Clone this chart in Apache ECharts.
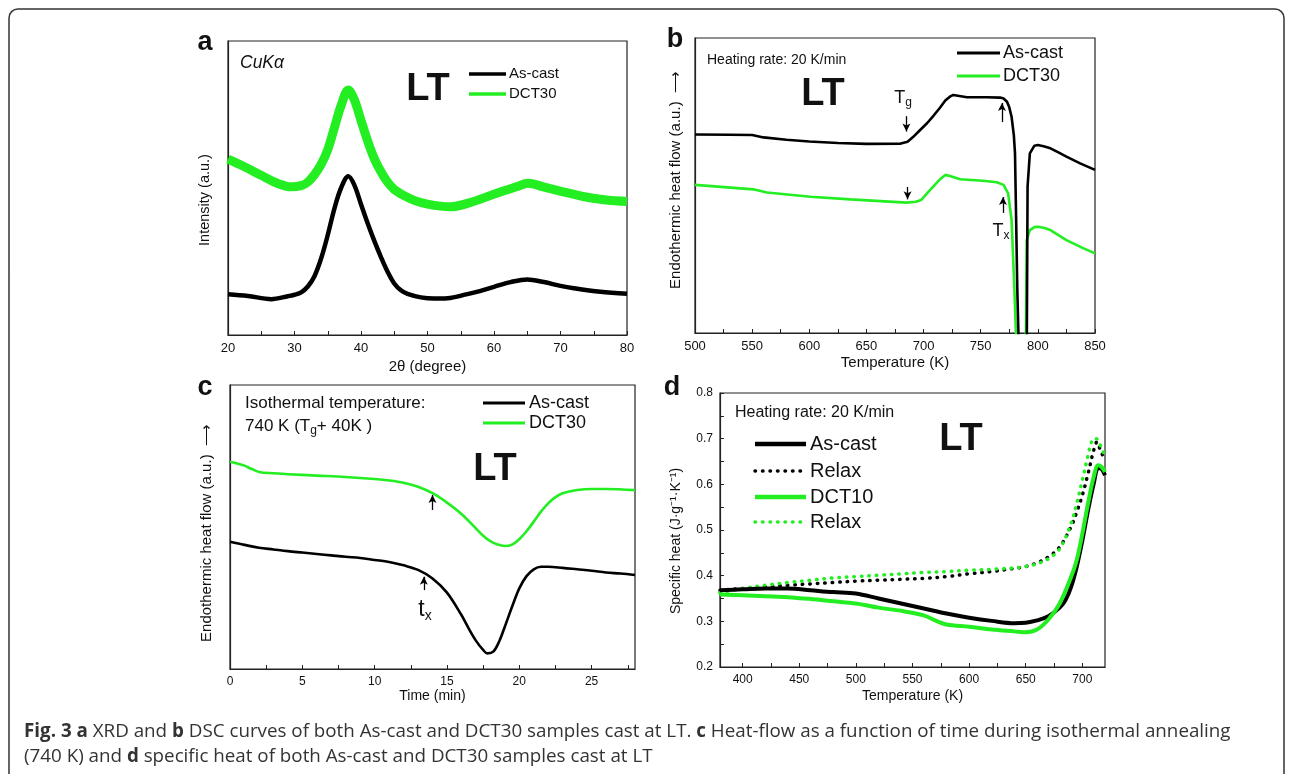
<!DOCTYPE html>
<html>
<head>
<meta charset="utf-8">
<script src="https://cdn.jsdelivr.net/npm/echarts@6/dist/echarts.min.js"></script>
<style>
  html, body { margin: 0; padding: 0; background: #fff; }
  #chart { width: 1293px; height: 774px; }
</style>
</head>
<body>
<div id="chart"></div>
<script>
// ---- values ----
// (a) XRD, intensity in arbitrary units (0-100 of the frame)
const xrdCastAngle = [20, 23, 26.5, 29, 30, 31, 32, 33, 34, 35, 36, 37, 38.1, 39, 40, 41, 42, 43, 44, 45, 46, 47, 49, 51, 53, 56, 58, 60, 62.5, 65, 67.5, 70, 72, 76, 80]
const xrdCastInt = [13.9, 13.3, 12.2, 13.2, 13.7, 14.5, 16.5, 20, 26, 34, 43, 50, 54, 51, 44.5, 38, 32, 26.5, 21.5, 17.5, 15.2, 14, 12.8, 12.4, 12.5, 13.9, 15, 16.4, 18, 18.9, 18, 16.7, 15.9, 14.7, 14]
const xrdDctAngle = [20, 22.4, 24.9, 27.4, 29.5, 31, 32, 33, 34, 35, 36, 37, 38.1, 39, 40, 41, 42, 43, 44, 45, 46.4, 48, 50, 53.4, 56.9, 60.4, 63.4, 65.1, 67.4, 70.4, 73.4, 76.9, 80]
const xrdDctInt = [59.8, 57.3, 54.4, 51.6, 50.4, 50.8, 52, 54.5, 58, 63, 70.5, 78, 83.3, 80, 73, 66, 60, 55.5, 52, 49.5, 47.5, 45.8, 44.5, 43.6, 45.4, 48.2, 50.4, 51.6, 50.4, 48.7, 47.1, 45.9, 45.4]
const xrdLabels = [20, 30, 40, 50, 60, 70, 80]
const xrdMinor = [25, 35, 45, 55, 65, 75]

// (b) DSC heat flow, arbitrary units
const dscCastT = [500, 530, 550, 560, 580, 600, 625, 650, 680, 686, 691, 697, 703, 709, 714, 719, 723, 726, 738, 755, 767, 770, 773, 775, 777, 779, 780, 781, 782, 783, 784, 790, 791, 793, 797, 800, 805, 811, 818, 825, 837, 850]
const dscCastHf = [67.3, 67.2, 67.1, 66.3, 65.5, 64.9, 64.4, 64.1, 64.2, 64.8, 66.5, 68.8, 71.1, 73.8, 76.2, 78.8, 80.1, 80.7, 79.9, 79.9, 79.8, 79.5, 78.4, 76.5, 73.3, 67, 60.9, 38.3, 15, 0, -30, -30, 49.6, 60.9, 63.5, 63.7, 63.3, 62.6, 61.2, 59.8, 57.5, 55.3]
const dscDctT = [500, 551, 563, 601, 636, 685, 693, 698, 703, 707, 711, 715, 719, 723, 732, 752, 764, 770, 774, 777, 779.4, 780.8, 781.5, 789, 790.2, 793, 797, 800, 805, 811, 818, 825, 840, 850]
const dscDctHf = [50.2, 48.7, 47.6, 46.2, 45.3, 44.2, 44.5, 45.1, 47.3, 49, 50.7, 52.3, 53.6, 53.2, 52.1, 51.6, 51.1, 50.2, 47.3, 38.3, 15.7, 0, -30, -30, 31.5, 34.9, 35.9, 36, 35.7, 34.9, 33.2, 31.5, 28.7, 27]
const dscLabels = [500, 550, 600, 650, 700, 750, 800, 850]
const dscMinor = [525, 575, 625, 675, 725, 775, 825]

// (c) isothermal heat flow at 740 K, arbitrary units
const isoCastTime = [0, 1, 2, 3, 4, 5, 6, 7, 8, 9, 10, 11, 12, 13, 14, 15, 16, 16.5, 17, 17.5, 17.8, 18.2, 18.6, 19, 19.5, 20, 20.5, 21, 21.5, 22, 23, 24, 25, 26, 27, 28]
const isoCastHf = [44.8, 43.7, 42.7, 42.1, 41.5, 41, 40.5, 40, 39.5, 39.1, 38.4, 37.7, 36.5, 34.9, 31.9, 26.9, 19, 14.3, 10, 6.7, 5.5, 6.1, 9.6, 14.9, 21.9, 28.4, 32.7, 35.1, 36, 36, 35.6, 35.1, 34.6, 34, 33.6, 33.1]
const isoDctTime = [0, 0.5, 1, 1.5, 2, 3, 4, 6, 8, 10, 11, 12, 13, 14, 15, 16, 17, 17.5, 18, 18.5, 19, 19.5, 20, 20.5, 21, 21.5, 22, 22.5, 23, 24, 25, 26, 28]
const isoDctHf = [73, 72.4, 71.6, 70.4, 69.4, 68.9, 68.6, 68.1, 67.6, 66.9, 66.4, 65.6, 64.2, 61.9, 58.6, 54.6, 49.5, 46.9, 45, 43.8, 43.3, 43.8, 45.7, 48.5, 51.9, 55.4, 58.3, 60.5, 61.9, 63, 63.4, 63.4, 63]
const isoLabels = [0, 5, 10, 15, 20, 25]
const isoMinor = [2.5, 7.5, 12.5, 17.5, 22.5, 27.5]

// (d) specific heat, J/(g K)
const cpCastT = [380, 400, 420, 440, 460, 480, 500, 520, 540, 560, 580, 600, 620, 640, 650, 660, 670, 680, 685, 690, 695, 700, 705, 710, 714, 717, 720]
const cpCast = [0.368, 0.370, 0.372, 0.372, 0.368, 0.364, 0.361, 0.350, 0.339, 0.328, 0.317, 0.308, 0.301, 0.296, 0.297, 0.302, 0.311, 0.330, 0.346, 0.375, 0.419, 0.477, 0.543, 0.601, 0.636, 0.634, 0.620]
const cpCastRelaxT = [380, 400, 420, 440, 460, 480, 500, 520, 540, 560, 580, 600, 620, 640, 650, 660, 670, 680, 690, 695, 700, 705, 710, 713, 716, 720]
const cpCastRelax = [0.368, 0.372, 0.375, 0.379, 0.382, 0.385, 0.388, 0.390, 0.392, 0.394, 0.398, 0.404, 0.409, 0.416, 0.420, 0.428, 0.441, 0.463, 0.507, 0.539, 0.576, 0.623, 0.674, 0.693, 0.674, 0.653]
const cpDctT = [380, 400, 420, 440, 460, 480, 500, 520, 540, 560, 570, 580, 600, 620, 640, 650, 660, 670, 680, 690, 695, 700, 705, 710, 714, 717, 720]
const cpDct = [0.359, 0.357, 0.355, 0.353, 0.349, 0.344, 0.339, 0.330, 0.323, 0.313, 0.302, 0.293, 0.288, 0.282, 0.278, 0.276, 0.282, 0.304, 0.339, 0.397, 0.434, 0.492, 0.558, 0.616, 0.642, 0.638, 0.627]
const cpDctRelaxT = [380, 400, 420, 440, 460, 480, 500, 520, 540, 560, 580, 600, 620, 640, 650, 660, 670, 680, 690, 695, 700, 705, 709, 712, 716, 720]
const cpDctRelax = [0.362, 0.372, 0.379, 0.385, 0.390, 0.395, 0.398, 0.401, 0.404, 0.407, 0.409, 0.412, 0.414, 0.417, 0.420, 0.426, 0.437, 0.459, 0.514, 0.558, 0.609, 0.663, 0.698, 0.700, 0.685, 0.661]
const cpLabels = [400, 450, 500, 550, 600, 650, 700]
const cpMinor = [425, 475, 525, 575, 625, 675]
const cpYLabels = [0.2, 0.3, 0.4, 0.5, 0.6, 0.7, 0.8]
const cpYMinor = [0.25, 0.35, 0.45, 0.55, 0.65, 0.75]

const FONT = "'Liberation Sans', Arial, sans-serif"
const CAPTION_FONT = "'Open Sans', 'Noto Sans', sans-serif"
const BLACK = '#000'
const GREEN = '#22ee22'

const zip = (xs, ys) => xs.map((x, i) => [x, ys[i]])

// plain box around each panel
const grids = [
    { left: 228, top: 41, width: 399, height: 294 },
    { left: 695, top: 38, width: 400, height: 295 },
    { left: 230, top: 385, width: 405, height: 284 },
    { left: 720, top: 393, width: 385, height: 274 }
].map(g => Object.assign(g, { show: true, borderColor: '#222', borderWidth: 1.2, backgroundColor: 'transparent' }))

function xAxis(i, min, max, labels, minor, name, nameGap, fontSize, nameSize) {
    return {
        type: 'value', gridIndex: i, min, max,
        name, nameLocation: 'middle', nameGap,
        nameTextStyle: { fontFamily: FONT, fontSize: nameSize, color: '#111' },
        axisLine: { show: true, lineStyle: { color: '#222', width: 1.2 } },
        axisTick: { show: true, inside: true, length: 4, customValues: labels.concat(minor), lineStyle: { color: '#222' } },
        axisLabel: { show: true, customValues: labels, margin: 7, fontFamily: FONT, fontSize, color: '#111' },
        splitLine: { show: false }
    }
}

function plainY(i, min, max) {
    return {
        type: 'value', gridIndex: i, min, max,
        axisLine: { show: true, lineStyle: { color: '#222', width: 1.2 } },
        axisTick: { show: false }, axisLabel: { show: false }, splitLine: { show: false }
    }
}

function line(name, i, data, color, width, extra) {
    return Object.assign({
        name, type: 'line', xAxisIndex: i, yAxisIndex: i, data,
        symbol: 'none', showSymbol: false, clip: true,
        lineStyle: { color, width },
        itemStyle: { color }
    }, extra || {})
}

// small vertical arrows marking Tg, Tx and tx
function arrows(list) {
    return {
        silent: true, symbol: ['none', 'arrow'], symbolSize: [6, 8],
        lineStyle: { color: BLACK, width: 1.3, type: 'solid' },
        label: { show: false }, emphasis: { disabled: true },
        data: list.map(a => [{ coord: [a[0], a[1]] }, { coord: [a[0], a[2]] }])
    }
}

const dotted = color => ({ color, width: 3.5, type: [0.5, 7], cap: 'round' })

const series = [
    line('As-cast', 0, zip(xrdCastAngle, xrdCastInt), BLACK, 4.5, { smooth: 0.35 }),
    line('DCT30', 0, zip(xrdDctAngle, xrdDctInt), GREEN, 9, { smooth: 0.35 }),

    line('DCT30', 1, zip(dscDctT, dscDctHf), GREEN, 2.6, {
        markLine: arrows([[686, 49.5, 45.3], [769.5, 40.7, 46.1]])
    }),
    line('As-cast', 1, zip(dscCastT, dscCastHf), BLACK, 2.6, {
        markLine: arrows([[685, 73.5, 68.3], [768.6, 71.5, 78]])
    }),

    line('DCT30', 2, zip(isoDctTime, isoDctHf), GREEN, 2.6, {
        smooth: 0.35, markLine: arrows([[14.0, 56, 61.3]])
    }),
    line('As-cast', 2, zip(isoCastTime, isoCastHf), BLACK, 2.6, {
        smooth: 0.35, markLine: arrows([[13.4, 27.8, 32.5]])
    }),

    line('Relax', 3, zip(cpCastRelaxT, cpCastRelax), BLACK, 3.5, { smooth: 0.35, lineStyle: dotted(BLACK) }),
    line('Relax DCT', 3, zip(cpDctRelaxT, cpDctRelax), GREEN, 3.5, { smooth: 0.35, lineStyle: dotted(GREEN) }),
    line('As-cast', 3, zip(cpCastT, cpCast), BLACK, 4, { smooth: 0.35 }),
    line('DCT10', 3, zip(cpDctT, cpDct), GREEN, 4, { smooth: 0.35 })
]

// free text, legends and the frame
function txt(x, y, text, size, opt) {
    opt = opt || {}
    return {
        type: 'text', x, y, rotation: opt.rot || 0, z: 100,
        style: Object.assign({
            text, fill: opt.color || '#111',
            font: (opt.italic ? 'italic ' : '') + (opt.bold ? 'bold ' : '') + size + 'px ' + (opt.family || FONT),
            align: opt.align || 'left', verticalAlign: 'middle'
        }, opt.style || {})
    }
}

function key(x1, x2, y, color, width, dashed) {
    const style = { stroke: color, lineWidth: width }
    if (dashed) { style.lineDash = [0.5, 7]; style.lineCap = 'round' }
    return { type: 'line', z: 100, shape: { x1, y1: y, x2, y2: y }, style }
}

const sub = { fontSize: 12, verticalAlign: 'bottom', lineHeight: 12 }
const boldCap = { b: { fontWeight: 'bold', fontFamily: CAPTION_FONT, fontSize: 18.8, fill: '#333' } }

const graphic = [
    { type: 'rect', z: 0, shape: { x: 9, y: 9, width: 1275, height: 790, r: 9 }, style: { fill: 'none', stroke: '#333', lineWidth: 1.5 } },

    // panel letters
    txt(205, 43, 'a', 27, { bold: true, align: 'center' }),
    txt(675, 40, 'b', 27, { bold: true, align: 'center' }),
    txt(205, 388, 'c', 27, { bold: true, align: 'center' }),
    txt(672, 388, 'd', 27, { bold: true, align: 'center' }),

    // y-axis titles
    txt(205, 200, 'Intensity (a.u.)', 14.5, { rot: Math.PI / 2, align: 'center' }),
    txt(676, 180, 'Endothermic heat flow (a.u.)  \u27F6', 15, { rot: Math.PI / 2, align: 'center' }),
    txt(207, 533, 'Endothermic heat flow (a.u.)  \u27F6', 15, { rot: Math.PI / 2, align: 'center' }),
    txt(676, 541, 'Specific heat (J\u00B7g\u207B\u00B9\u00B7K\u207B\u00B9)', 14, { rot: Math.PI / 2, align: 'center' }),

    // panel a
    txt(240, 63, 'CuK\u03B1', 17.5, { italic: true }),
    txt(428, 90, 'LT', 38, { bold: true, align: 'center' }),
    key(469, 506, 74, BLACK, 3.5), key(469, 506, 94, GREEN, 3.5),
    txt(509, 74, 'As-cast', 15), txt(509, 94, 'DCT30', 15),

    // panel b
    txt(707, 60, 'Heating rate: 20 K/min', 14),
    txt(823, 95, 'LT', 38, { bold: true, align: 'center' }),
    key(957, 1000, 53, BLACK, 3), key(957, 1000, 76, GREEN, 3),
    txt(1003, 53, 'As-cast', 18), txt(1003, 76, 'DCT30', 18),
    txt(903, 98, 'T{s|g}', 18, { align: 'center', style: { lineHeight: 22, rich: { s: sub } } }),
    txt(1001, 231, 'T{s|x}', 18, { align: 'center', style: { lineHeight: 22, rich: { s: sub } } }),

    // panel c
    txt(245, 403, 'Isothermal temperature:', 17),
    txt(245, 426, '740 K (T{s|g}+ 40K )', 17, { style: { lineHeight: 22, rich: { s: sub } } }),
    txt(495, 470, 'LT', 38, { bold: true, align: 'center' }),
    key(483, 525, 403, BLACK, 3), key(483, 525, 423, GREEN, 3),
    txt(529, 403, 'As-cast', 18), txt(529, 423, 'DCT30', 18),
    txt(425, 610, 't{s|x}', 23, { align: 'center', style: { lineHeight: 26, rich: { s: { fontSize: 14, verticalAlign: 'bottom', lineHeight: 12 } } } }),

    // panel d
    txt(735, 413, 'Heating rate: 20 K/min', 16),
    txt(961, 440, 'LT', 38, { bold: true, align: 'center' }),
    key(755, 806, 444, BLACK, 4.5), key(755, 806, 471, BLACK, 3.5, true),
    key(755, 806, 497, GREEN, 4.5), key(755, 806, 522, GREEN, 3.5, true),
    txt(810, 444, 'As-cast', 20), txt(810, 471, 'Relax', 20),
    txt(810, 497, 'DCT10', 20), txt(810, 522, 'Relax', 20),

    // caption
    txt(24, 732, '{b|Fig. 3 a} XRD and {b|b} DSC curves of both As-cast and DCT30 samples cast at LT. {b|c} Heat-flow as a function of time during isothermal annealing', 18.8,
        { family: CAPTION_FONT, color: '#333', style: { rich: boldCap } }),
    txt(24, 757, '(740 K) and {b|d} specific heat of both As-cast and DCT30 samples cast at LT', 18.8,
        { family: CAPTION_FONT, color: '#333', style: { rich: boldCap } })
]

const yD = {
    type: 'value', gridIndex: 3, min: 0.2, max: 0.8,
    axisLine: { show: true, lineStyle: { color: '#222', width: 1.2 } },
    axisTick: { show: true, inside: true, length: 4, customValues: cpYLabels.concat(cpYMinor), lineStyle: { color: '#222' } },
    axisLabel: { show: true, customValues: cpYLabels, margin: 7, fontFamily: FONT, fontSize: 12, color: '#111', formatter: v => v.toFixed(1) },
    splitLine: { show: false }
}

const chart = echarts.init(document.getElementById('chart'), null, { renderer: 'canvas' })
chart.setOption({
    animation: false,
    backgroundColor: '#fff',
    textStyle: { fontFamily: FONT },
    grid: grids,
    xAxis: [
        xAxis(0, 20, 80, xrdLabels, xrdMinor, '2\u03B8 (degree)', 24, 13, 15),
        xAxis(1, 500, 850, dscLabels, dscMinor, 'Temperature (K)', 22, 13, 15),
        xAxis(2, 0, 28, isoLabels, isoMinor, 'Time (min)', 19, 12, 14),
        xAxis(3, 380, 720, cpLabels, cpMinor, 'Temperature (K)', 22, 12, 14)
    ],
    yAxis: [plainY(0, 0, 100), plainY(1, 0, 100), plainY(2, 0, 100), yD],
    series,
    graphic
})
</script>
</body>
</html>
